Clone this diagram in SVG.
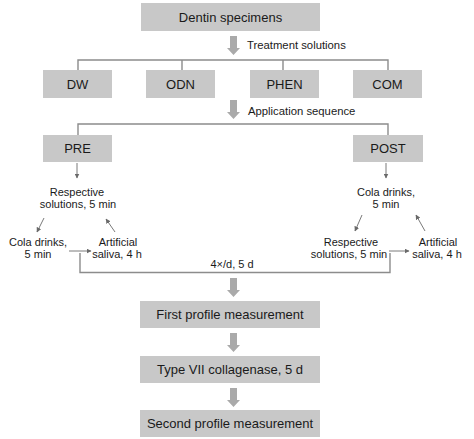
<svg xmlns="http://www.w3.org/2000/svg" width="474" height="439" viewBox="0 0 474 439">
<style>
.box{fill:#c8c8c8}
.bt{font-family:"Liberation Sans",Arial,sans-serif;font-size:13px;fill:#1a1a1a;text-anchor:middle}
.st{font-family:"Liberation Sans",Arial,sans-serif;font-size:11.3px;fill:#1a1a1a}
.sm{font-family:"Liberation Sans",Arial,sans-serif;font-size:11px;fill:#1a1a1a;text-anchor:middle}
.ln{fill:none;stroke:#8c8c8c;stroke-width:1.4}
.ar{fill:none;stroke:#7a7a7a;stroke-width:1;marker-end:url(#ah)}
.blk{fill:#aaaaaa}
</style>
<defs>
<marker id="ah" viewBox="0 0 10 10" refX="9" refY="5" markerWidth="5" markerHeight="5" orient="auto" markerUnits="userSpaceOnUse">
<path d="M0,0 L10,5 L0,10 z" fill="#6a6a6a"/>
</marker>
<path id="barrow" d="M-3.5,0 H3.5 V12 H6.5 L0,19 L-6.5,12 H-3.5 Z"/>
</defs>
<rect width="474" height="439" fill="#ffffff"/>

<g id="connectors">
<use href="#barrow" class="blk" x="233.5" y="36"/>
<use href="#barrow" class="blk" x="233.5" y="100"/>
<use href="#barrow" class="blk" x="233.5" y="278"/>
<use href="#barrow" class="blk" x="233.5" y="333"/>
<use href="#barrow" class="blk" x="233.5" y="388"/>
<path class="ln" d="M78,70 V60 H388 V70 M182,60 V70 M283,60 V70"/>
<path class="ln" d="M78,135 V124 H388 V135"/>
<path class="ln" d="M80,253 V272.5 H390 V253"/>
<line class="ar" x1="77" y1="163" x2="77" y2="178"/>
<line class="ar" x1="44" y1="218" x2="37" y2="232"/>
<line class="ar" x1="69" y1="251" x2="91" y2="251"/>
<line class="ar" x1="115" y1="232" x2="106" y2="219"/>
<line class="ar" x1="386" y1="163" x2="386" y2="178"/>
<line class="ar" x1="362" y1="215" x2="355" y2="231"/>
<line class="ar" x1="389" y1="251" x2="409" y2="251"/>
<line class="ar" x1="425" y1="231" x2="416" y2="215"/>
</g>

<text class="st" x="247" y="49">Treatment solutions</text>
<text class="st" x="248" y="115">Application sequence</text>
<text class="sm" x="232" y="268">4×/d, 5 d</text>

<g id="n-dentin"><rect class="box" x="141" y="3" width="179" height="28"/><text class="bt" x="230.5" y="22">Dentin specimens</text></g>
<g id="n-dw"><rect class="box" x="43" y="70" width="69" height="28"/><text class="bt" x="77.5" y="89">DW</text></g>
<g id="n-odn"><rect class="box" x="146" y="70" width="69" height="28"/><text class="bt" x="180.5" y="89">ODN</text></g>
<g id="n-phen"><rect class="box" x="250" y="70" width="69" height="28"/><text class="bt" x="284.5" y="89">PHEN</text></g>
<g id="n-com"><rect class="box" x="353" y="70" width="69" height="28"/><text class="bt" x="387.5" y="89">COM</text></g>
<g id="n-pre"><rect class="box" x="43" y="135" width="69" height="27"/><text class="bt" x="77.5" y="153">PRE</text></g>
<g id="n-post"><rect class="box" x="353" y="135" width="70" height="27"/><text class="bt" x="388" y="153">POST</text></g>

<g id="n-pre-resp"><text class="sm" x="77" y="196">Respective</text><text class="sm" x="78" y="208">solutions, 5 min</text></g>
<g id="n-pre-cola"><text class="sm" x="38" y="246">Cola drinks,</text><text class="sm" x="38" y="258">5 min</text></g>
<g id="n-pre-saliva"><text class="sm" x="118" y="246">Artificial</text><text class="sm" x="117" y="258">saliva, 4 h</text></g>

<g id="n-post-cola"><text class="sm" x="386" y="196">Cola drinks,</text><text class="sm" x="386" y="208">5 min</text></g>
<g id="n-post-resp"><text class="sm" x="351" y="246">Respective</text><text class="sm" x="349" y="258">solutions, 5 min</text></g>
<g id="n-post-saliva"><text class="sm" x="438" y="246">Artificial</text><text class="sm" x="437" y="258">saliva, 4 h</text></g>

<g id="n-first"><rect class="box" x="140" y="301" width="180" height="27"/><text class="bt" x="230" y="319">First profile measurement</text></g>
<g id="n-type"><rect class="box" x="140" y="356" width="180" height="27"/><text class="bt" x="230" y="374">Type VII collagenase, 5 d</text></g>
<g id="n-second"><rect class="box" x="140" y="410" width="180" height="27"/><text class="bt" x="230" y="428">Second profile measurement</text></g>
</svg>
